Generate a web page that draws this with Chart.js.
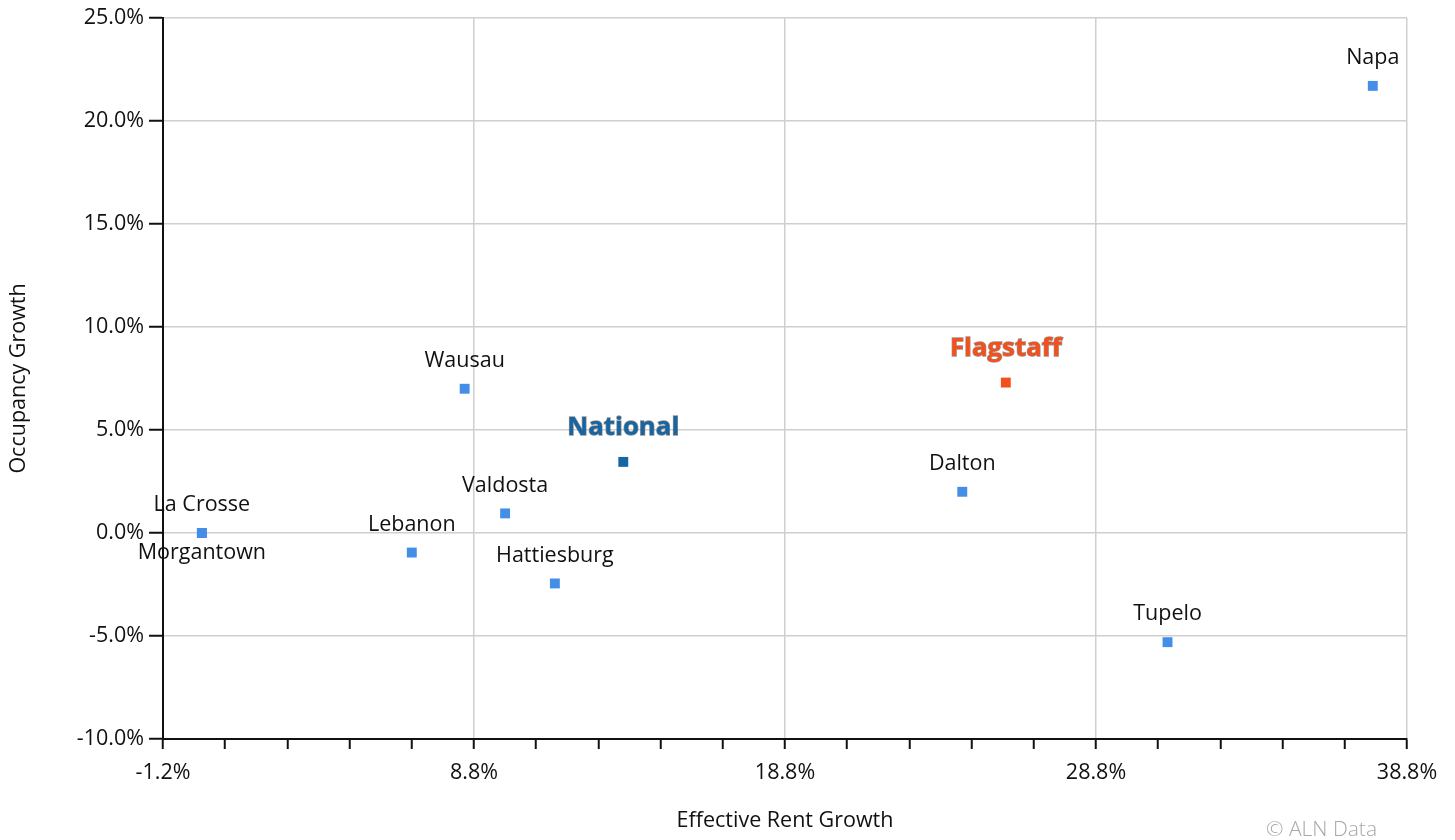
<!DOCTYPE html>
<html>
<head>
<meta charset="utf-8">
<script src="https://cdn.jsdelivr.net/npm/chart.js@4/dist/chart.umd.min.js"></script>
<style>
  html, body { margin: 0; padding: 0; background: #fff; }
  #wrap { position: relative; width: 1455px; height: 840px; }
  #credit { position: absolute; left: 1266px; top: 814px; font-family: "Open Sans", sans-serif; font-size: 21px; color: #a8a8a8; font-weight: 300; }
</style>
</head>
<body>
<div id="wrap">
  <canvas id="c" width="1455" height="840"></canvas>
  <div id="credit">© ALN Data</div>
</div>
<script>
// ---- data ----
const markets = ['Napa', 'Flagstaff', 'Wausau', 'National', 'Dalton', 'Valdosta', 'La Crosse', 'Morgantown', 'Lebanon', 'Hattiesburg', 'Tupelo'];
const rentGrowth = [37.7, 25.9, 8.5, 13.6, 24.5, 9.8, 0.05, 0.05, 6.8, 11.4, 31.1];
const occupancyGrowth = [21.7, 7.3, 7.0, 3.45, 2.0, 0.95, 0.0, 0.0, -0.95, -2.45, -5.3];
const xTickValues = [-1.2, 0.8, 2.8, 4.8, 6.8, 8.8, 10.8, 12.8, 14.8, 16.8, 18.8, 20.8, 22.8, 24.8, 26.8, 28.8, 30.8, 32.8, 34.8, 36.8, 38.8];
const xMajorTicks = [-1.2, 8.8, 18.8, 28.8, 38.8];
const yTickValues = [-10, -5, 0, 5, 10, 15, 20, 25];

// ---- styling ----
const FONT = '"Open Sans", sans-serif';
const BLUE = '#448ee8';
const NATIONAL = '#1766a4';
const FLAG = '#f2501c';
const highlight = { 'National': NATIONAL, 'Flagstaff': FLAG };
const labelBelow = ['Morgantown'];

const pts = rentGrowth.map((x, i) => ({ x: x, y: occupancyGrowth[i] }));
const colors = markets.map(m => highlight[m] || BLUE);

const isMajor = v => xMajorTicks.some(t => Math.abs(t - v) < 1e-6);

const labelPlugin = {
  id: 'pointLabels',
  afterDatasetsDraw(chart) {
    const ctx = chart.ctx;
    const meta = chart.getDatasetMeta(0);
    ctx.save();
    ctx.textAlign = 'center';
    ctx.textBaseline = 'middle';
    meta.data.forEach((el, i) => {
      const name = markets[i];
      const hc = highlight[name];
      if (hc) {
        ctx.font = 'bold 25.8px ' + FONT;
        ctx.lineWidth = 1.3;
        ctx.strokeStyle = 'rgba(60,40,30,0.5)';
        ctx.fillStyle = hc;
        const y = el.y - 34;
        ctx.strokeText(name, el.x, y);
        ctx.fillText(name, el.x, y);
      } else {
        ctx.font = '21.5px ' + FONT;
        ctx.fillStyle = '#111';
        const y = labelBelow.includes(name) ? el.y + 20 : el.y - 28;
        ctx.fillText(name, el.x, y);
      }
    });
    ctx.restore();
  }
};

new Chart(document.getElementById('c'), {
  type: 'scatter',
  data: {
    datasets: [{
      label: 'Markets',
      data: pts,
      pointStyle: 'rect',
      pointRadius: 7,
      pointHoverRadius: 7,
      pointBackgroundColor: colors,
      pointBorderColor: colors,
      pointBorderWidth: 0
    }]
  },
  options: {
    responsive: false,
    animation: false,
    devicePixelRatio: 1,
    layout: { padding: { top: 16, right: 48, bottom: 0, left: 0 } },
    plugins: { legend: { display: false }, tooltip: { enabled: false } },
    scales: {
      x: {
        type: 'linear',
        min: -1.2,
        max: 38.8,
        afterBuildTicks: s => { s.ticks = xTickValues.map(v => ({ value: v })); },
        afterFit: s => { s.height = 101; },
        ticks: {
          font: { family: FONT, size: 21.5 },
          color: '#111',
          padding: 11,
          maxRotation: 0,
          autoSkip: false,
          callback: v => isMajor(v) ? v.toFixed(1) + '%' : ''
        },
        grid: {
          color: c => isMajor(c.tick ? c.tick.value : NaN) ? '#cfcfcf' : 'rgba(0,0,0,0)',
          lineWidth: 1.5,
          tickColor: '#111',
          tickLength: 10,
          tickWidth: 2
        },
        border: { color: '#111', width: 2 },
        title: {
          display: true,
          text: 'Effective Rent Growth',
          font: { family: FONT, size: 21.5 },
          color: '#111',
          padding: { top: 4, bottom: 6 }
        }
      },
      y: {
        type: 'linear',
        min: -10,
        max: 25,
        afterBuildTicks: s => { s.ticks = yTickValues.map(v => ({ value: v })); },
        afterFit: s => { s.width = 163; },
        ticks: {
          font: { family: FONT, size: 21.5 },
          color: '#111',
          padding: 5,
          callback: v => v.toFixed(1) + '%'
        },
        grid: {
          color: '#cfcfcf',
          lineWidth: 1.5,
          tickColor: '#111',
          tickLength: 14,
          tickWidth: 2
        },
        border: { color: '#111', width: 2 },
        title: {
          display: true,
          text: 'Occupancy Growth',
          font: { family: FONT, size: 21.5 },
          color: '#111',
          padding: { top: 6, bottom: 0 }
        }
      }
    }
  },
  plugins: [labelPlugin]
});
</script>
</body>
</html>
